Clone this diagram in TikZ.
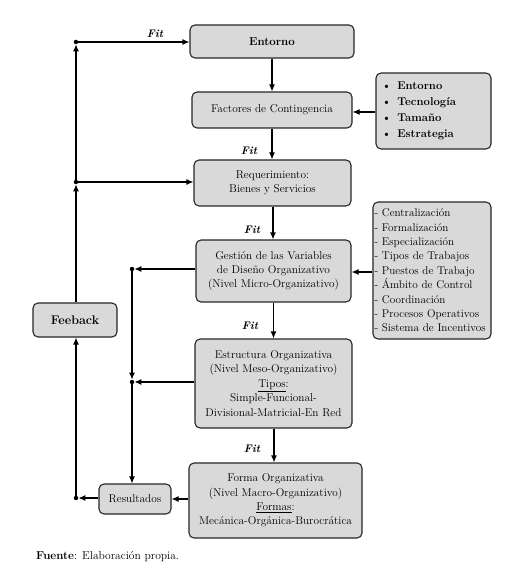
\documentclass[tikz,border=0pt]{standalone}
\usepackage{fontspec}
\usetikzlibrary{arrows.meta}
\definecolor{boxgray}{RGB}{217,217,217}
\tikzset{
  box/.style={draw=black!85, line width=1.1pt, fill=boxgray, rounded corners=5pt, inner sep=0pt, align=center, font=\fontsize{11.3}{14.4}\selectfont},
  arr/.style={line width=1.1pt, -{Latex[length=7pt,width=6pt]}},
  dotn/.style={circle, fill=black, inner sep=0pt, minimum size=4.5pt},
  fitlbl/.style={font=\fontsize{11}{12}\selectfont\bfseries\itshape, inner sep=0pt}
}
\begin{document}
\begin{tikzpicture}[x=1pt,y=-1pt]
\useasboundingbox (0,0) rectangle (511,577);
% boxes
\node[box, minimum width=164pt, minimum height=33pt, font=\fontsize{11.5}{14}\selectfont\bfseries] (ent) at (272,41.5) {Entorno};
\node[box, minimum width=160pt, minimum height=36pt] (fac) at (272,110) {Factores de Contingencia};
\node[box, minimum width=115pt, minimum height=76pt, text width=104pt, inner xsep=5.5pt, align=left, font=\fontsize{11.3}{16}\selectfont\bfseries] (l1) at (433.5,111) {\textbullet\hspace{6pt}Entorno\\\textbullet\hspace{6pt}Tecnología\\\textbullet\hspace{6pt}Tamaño\\\textbullet\hspace{6pt}Estrategia};
\node[box, minimum width=157pt, minimum height=46pt] (req) at (272.5,183) {Requerimiento:\\Bienes y Servicios};
\node[box, minimum width=155pt, minimum height=62pt] (ges) at (273.5,271) {Gestión de las Variables\\de Diseño Organizativo\\(Nivel Micro-Organizativo)};
\node[box, minimum width=118pt, minimum height=137pt, text width=115pt, inner xsep=1.5pt, align=left, font=\fontsize{11.2}{14.4}\selectfont] (l2) at (432,270.5) {- Centralización\\- Formalización\\- Especialización\\- Tipos de Trabajos\\- Puestos de Trabajo\\- Ámbito de Control\\- Coordinación\\- Procesos Operativos\\- Sistema de Incentivos};
\node[box, minimum width=84pt, minimum height=34pt, font=\fontsize{12.5}{15}\selectfont\bfseries] (fee) at (75,320) {Feeback};
\node[box, minimum width=157pt, minimum height=89pt] (est) at (273.5,383.5) {Estructura Organizativa\\(Nivel Meso-Organizativo)\\\underline{Tipos}:\\Simple-Funcional-\\Divisional-Matricial-En Red};
\node[box, minimum width=173pt, minimum height=75pt] (frm) at (275.5,500.5) {Forma Organizativa\\(Nivel Macro-Organizativo)\\\underline{Formas}:\\Mecánica-Orgánica-Burocrática};
\node[box, minimum width=72pt, minimum height=30pt] (res) at (135,499) {Resultados};
% dots
\node[dotn] (d1) at (76,42) {};
\node[dotn] (d2) at (76,182) {};
\node[dotn] (d3) at (132,269) {};
\node[dotn] (d4) at (132,382) {};
\node[dotn] (d5) at (76,498) {};
% fit labels
\node[fitlbl] (f1) at (155,34) {Fit};
\node[fitlbl] (f2) at (249,151) {Fit};
\node[fitlbl] (f3) at (252,230) {Fit};
\node[fitlbl] (f4) at (250,326) {Fit};
\node[fitlbl] (f5) at (252,449) {Fit};
% main chain
\draw[arr] (ent.south) -- (ent.south |- fac.north);
\draw[arr] (fac.south) -- (fac.south |- req.north);
\draw[arr] (req.south -| 273,0) -- (273,0 |- ges.north);
\draw[arr] (ges.south -| 273.5,0) -- (273.5,0 |- est.north);
\draw[arr] (est.south -| 274,0) -- (274,0 |- frm.north);
\draw[arr] (l1.west |- 0,112) -- (fac.east |- 0,112);
\draw[arr] (l2.west |- 0,272) -- (ges.east |- 0,272);
% inner feedback loop
\draw[arr] (ges.west |- d3) -- (d3);
\draw[arr] (d3) -- (d4);
\draw[arr] (est.west |- d4) -- (d4);
\draw[arr] (d4) -- (d4 |- res.north);
\draw[arr] (frm.west |- res) -- (res.east);
\draw[arr] (res.west |- d5) -- (d5);
% outer feedback loop
\draw[arr] (d5) -- (d5 |- fee.south);
\draw[arr] (d2 |- fee.north) -- (d2);
\draw[arr] (d2) -- (d1);
\draw[arr] (d1) -- (ent.west |- d1);
\draw[arr] (d2) -- (req.west |- d2);
% source
\node[anchor=west, inner sep=0pt, font=\fontsize{11.5}{14}\selectfont] (src) at (36,557) {\textbf{Fuente}: Elaboración propia.};
\end{tikzpicture}
\end{document}
